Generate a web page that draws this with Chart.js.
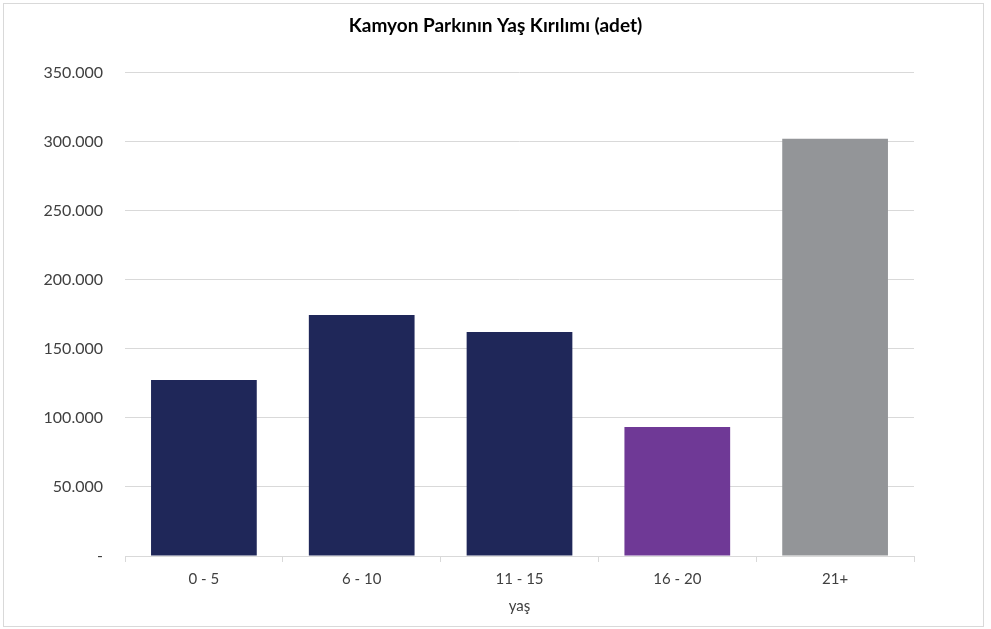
<!DOCTYPE html>
<html><head><meta charset="utf-8">
<script src="https://cdn.jsdelivr.net/npm/chart.js@4.4.1/dist/chart.umd.min.js"></script>
<style>
html,body{margin:0;padding:0;background:#fff;}
#wrap{position:absolute;left:0;top:0;width:991px;height:629px;}
#frame{position:absolute;left:3px;top:3px;width:981px;height:624px;border:1px solid #d9d9d9;box-sizing:border-box;pointer-events:none;}
</style></head>
<body>
<div id="wrap"><canvas id="c" width="991" height="629"></canvas><div id="frame"></div></div>
<script>
const categories = ["0 - 5", "6 - 10", "11 - 15", "16 - 20", "21+"];
const values = [127500, 174500, 162300, 93500, 302200];
const barColors = ["#1f2759", "#1f2759", "#1f2759", "#6f3996", "#939598"];
const yTicks = [0, 50000, 100000, 150000, 200000, 250000, 300000, 350000];
const titleText = "Kamyon Parkının Yaş Kırılımı (adet)";
const xTitle = "yaş";

function fmt(v){
  if (v === 0) return "-";
  return v.toString().replace(/\B(?=(\d{3})+(?!\d))/g, ".");
}

new Chart(document.getElementById("c"), {
  type: "bar",
  data: {
    labels: categories,
    datasets: [{ data: values, backgroundColor: barColors, barPercentage: 0.67, categoryPercentage: 1.0 }]
  },
  options: {
    responsive: false,
    animation: false,
    layout: { padding: { left: 0, right: 0, top: 0, bottom: 14 } },
    plugins: {
      legend: { display: false },
      tooltip: { enabled: false },
      title: {
        display: true, text: titleText, color: "#000",
        font: { family: "Lato", size: 19, weight: "bold" },
        padding: { top: 14, bottom: 36 }
      }
    },
    scales: {
      x: {
        grid: { display: true, drawOnChartArea: false, drawTicks: true, tickLength: 6, color: "#d9d9d9", offset: true },
        border: { display: true, color: "#d9d9d9" },
        ticks: { color: "#404040", font: { family: "Lato", size: 15 }, padding: 8 },
        title: { display: true, text: xTitle, color: "#404040", font: { family: "Lato", size: 15 }, padding: { top: 1, bottom: 0 } }
      },
      y: {
        min: 0, max: 350000,
        afterBuildTicks: s => { s.ticks = yTicks.map(v => ({ value: v })); },
        afterFit: s => { s.width = 125; },
        grid: { color: "#d9d9d9", drawTicks: false },
        border: { display: false },
        ticks: { color: "#404040", font: { family: "Lato", size: 16 }, padding: 22, callback: v => fmt(v) }
      },
      yRight: {
        position: "right",
        min: 0, max: 350000,
        afterFit: s => { s.width = 77; },
        grid: { display: false, drawTicks: false },
        border: { display: false },
        ticks: { display: false }
      }
    }
  }
});
</script>
</body></html>
